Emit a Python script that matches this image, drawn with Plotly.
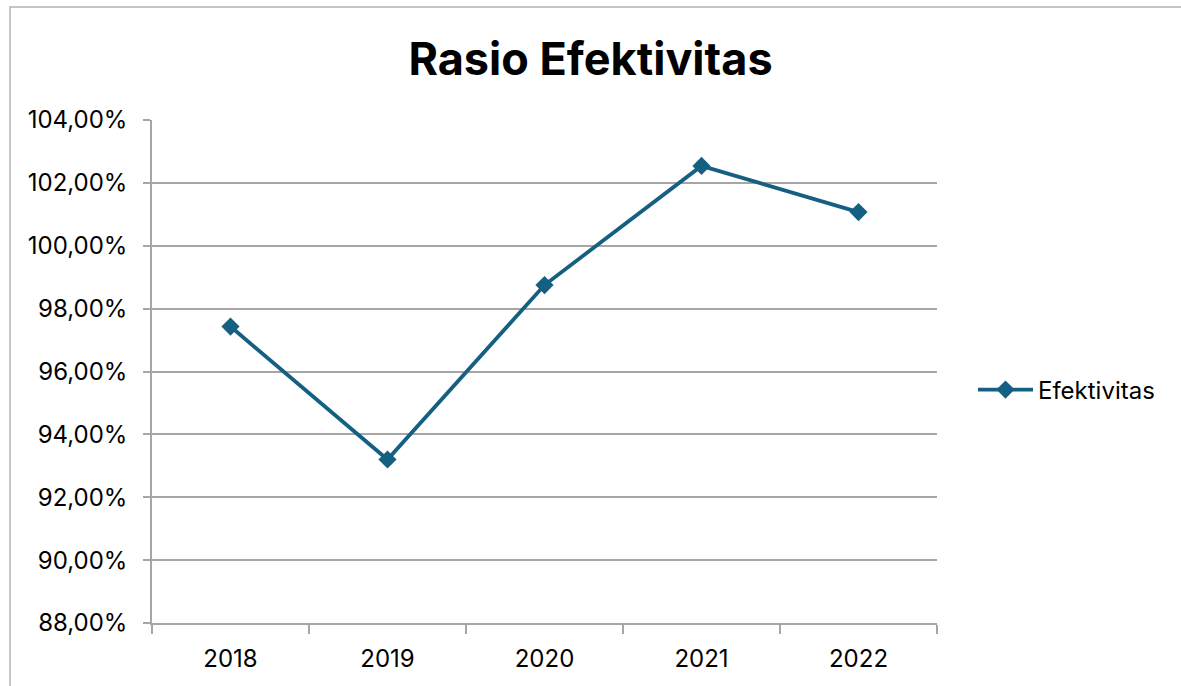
import plotly.graph_objects as go

years = ["2018", "2019", "2020", "2021", "2022"]
efektivitas = [0.9743, 0.9320, 0.9875, 1.0254, 1.0107]
series_name = "Efektivitas"
title_text = "Rasio Efektivitas"

W, H = 1181, 686
L, R, T, B = 152, 937, 120, 623
FONT = "Inter, Liberation Sans, Arial, sans-serif"

fig = go.Figure()
fig.add_trace(go.Scatter(
    x=years, y=efektivitas, name=series_name, mode="lines+markers",
    line=dict(color="#156082", width=3.8),
    marker=dict(symbol="diamond", size=14, color="#156082"),
))

def px_to_paper_x(px):
    return (px - L) / (R - L)

def px_to_paper_y(py):
    return (B - py) / (B - T)

fig.update_layout(
    width=W, height=H,
    margin=dict(l=L, r=W - R, t=T, b=H - B),
    paper_bgcolor="white", plot_bgcolor="white",
    separators=",.",
    font=dict(family=FONT, color="#000000", size=24),
    title=dict(text="<b>" + title_text + "</b>", x=0.5, xanchor="center",
               y=1 - 59 / H, yanchor="middle",
               font=dict(size=45, family=FONT, color="#000000")),
    showlegend=True,
    legend=dict(x=px_to_paper_x(973), y=px_to_paper_y(390), xanchor="left", yanchor="middle",
                font=dict(size=24, family=FONT), bgcolor="rgba(0,0,0,0)", itemwidth=55),
    xaxis=dict(type="category", tickson="boundaries", ticks="outside", ticklen=9,
               tickcolor="#a6a6a6", tickwidth=1.5, showline=True, linecolor="#a6a6a6",
               linewidth=1.5, showgrid=False, range=[-0.5, 4.5], tickfont=dict(size=24, family=FONT),
               ticklabelstandoff=13),
    yaxis=dict(range=[0.88, 1.04], dtick=0.02, tick0=0.88, tickformat=".2%",
               ticks="outside", ticklen=7, tickcolor="#a6a6a6", tickwidth=1.5,
               showline=True, linecolor="#a6a6a6", linewidth=1.5,
               showgrid=True, gridcolor="#a6a6a6", gridwidth=1.5, zeroline=False,
               tickfont=dict(size=24, family=FONT), ticklabelstandoff=11),
    shapes=[dict(type="rect", xref="paper", yref="paper",
                 x0=px_to_paper_x(10), x1=px_to_paper_x(1190),
                 y0=px_to_paper_y(700), y1=px_to_paper_y(7),
                 line=dict(color="#b3b3b3", width=1.5), fillcolor="rgba(0,0,0,0)", layer="below")],
)

fig.write_html("out.html")
